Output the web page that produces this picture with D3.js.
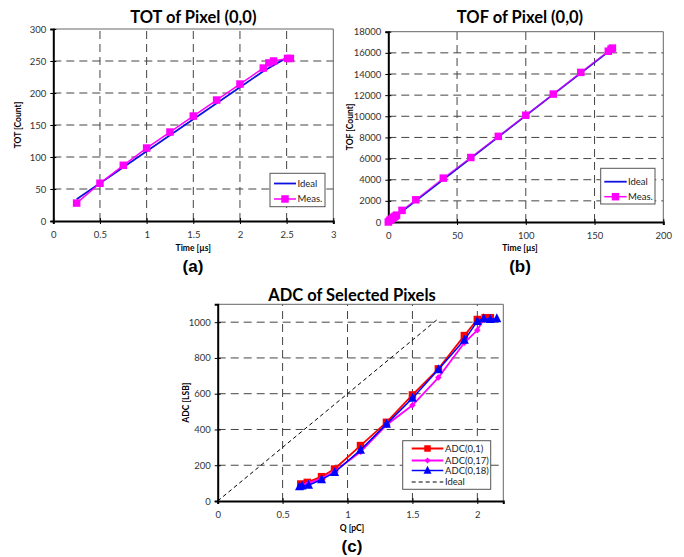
<!DOCTYPE html>
<html><head><meta charset="utf-8">
<script src="https://cdn.jsdelivr.net/npm/d3@7"></script>
<style>body{margin:0;background:#fff}svg{display:block}</style>
</head><body>
<svg id="c" width="684" height="557"></svg>
<script>
// ---- Data ----
const totTime = [0.25, 0.5, 0.75, 1.0, 1.25, 1.5, 1.75, 2.0, 2.25, 2.31, 2.36, 2.51, 2.54];
const totMeas = [28, 59, 87, 114, 139, 164, 189, 214, 239, 247, 250, 254, 254];
const totIdealTime = [0.25, 0.5, 0.75, 1.0, 1.25, 1.5, 1.75, 2.0, 2.25, 2.5];
const totIdeal = [34, 59, 84, 109, 134, 159, 184, 209, 234, 255];

const tofTime = [0, 1, 2, 3, 4, 5, 6, 10, 20, 40, 60, 80, 100, 120, 140, 160, 162, 163];
const tofMeas = [0, 150, 250, 350, 450, 550, 650, 1100, 2100, 4150, 6100, 8100, 10100, 12100, 14150, 16150, 16350, 16450];
const tofIdealTime = [0, 163];
const tofIdeal = [0, 16400];

const adcQ01 = [0.64, 0.69, 0.8, 0.9, 1.1, 1.3, 1.5, 1.7, 1.9, 2.0, 2.06, 2.1];
const adc01 = [95, 104, 136, 179, 310, 440, 593, 739, 925, 1015, 1025, 1025];
const adcQ17 = [0.65, 0.7, 0.8, 0.9, 1.1, 1.3, 1.5, 1.7, 1.9, 2.0, 2.05, 2.1];
const adc17 = [90, 100, 125, 165, 275, 425, 535, 690, 885, 955, 1018, 1018];
const adcQ18 = [0.63, 0.65, 0.7, 0.8, 0.9, 1.1, 1.3, 1.5, 1.7, 1.9, 2.0, 2.05, 2.1, 2.15];
const adc18 = [80, 85, 88, 120, 160, 285, 430, 575, 735, 900, 1005, 1020, 1015, 1020];
const adcIdealQ = [0, 1.7];
const adcIdeal = [0, 1020];

const totXTicks = [0, 0.5, 1, 1.5, 2, 2.5, 3];
const totYTicks = [0, 50, 100, 150, 200, 250, 300];
const tofXTicks = [0, 50, 100, 150, 200];
const tofYTicks = [0, 2000, 4000, 6000, 8000, 10000, 12000, 14000, 16000, 18000];
const adcXTicks = [0, 0.5, 1, 1.5, 2];
const adcYTicks = [0, 200, 400, 600, 800, 1000];

const svg = d3.select("#c");
const FONT = "Lato, 'Open Sans', sans-serif";

function panel(o) {
  const g = svg.append("g");
  const x = d3.scaleLinear().domain(o.xd).range(o.xr);
  const y = d3.scaleLinear().domain(o.yd).range(o.yr);
  const [x0, x1] = o.xr, [y0, y1] = o.yr;
  // grid
  g.selectAll(null).data(o.xt.filter(v => x(v) > x0 + 1 && x(v) < x1 - 1)).enter().append("line")
    .attr("x1", d => x(d)).attr("x2", d => x(d)).attr("y1", y0).attr("y2", y1)
    .attr("stroke", "#444").attr("stroke-width", 1).attr("stroke-dasharray", "8,5");
  g.selectAll(null).data(o.yt.filter(v => y(v) < y0 - 1 && y(v) > y1 + 1)).enter().append("line")
    .attr("y1", d => y(d)).attr("y2", d => y(d)).attr("x1", x0).attr("x2", x1)
    .attr("stroke", "#444").attr("stroke-width", 1).attr("stroke-dasharray", "8,5");
  // frame
  g.append("line").attr("x1", x0).attr("x2", x1).attr("y1", y1).attr("y2", y1).attr("stroke", "#666").attr("stroke-width", 1);
  g.append("line").attr("x1", x1).attr("x2", x1).attr("y1", y0).attr("y2", y1).attr("stroke", "#666").attr("stroke-width", 1);
  // axes via d3
  const xa = g.append("g").attr("transform", `translate(0,${y0})`)
    .call(d3.axisBottom(x).tickValues(o.xt).tickSize(3).tickFormat(d3.format(o.xf || "")).tickPadding(7));
  const ya = g.append("g").attr("transform", `translate(${x0},0)`)
    .call(d3.axisLeft(y).tickValues(o.yt).tickSize(3).tickFormat(d3.format("d")).tickPadding(4));
  [xa, ya].forEach(a => {
    a.select(".domain").attr("stroke", "#000").attr("stroke-width", 2);
    a.selectAll(".tick line").attr("stroke", "#000").attr("stroke-width", 1);
    a.selectAll(".tick text").attr("font-family", FONT).attr("font-size", 9.5).attr("fill", "#333");
  });
  xa.selectAll(".tick line").attr("y1", -3);
  ya.selectAll(".tick line").attr("x1", 3);
  // titles
  const cx = (x0 + x1) / 2;
  g.append("text").attr("x", o.tx || cx).attr("y", o.ty).attr("text-anchor", "middle")
    .attr("font-family", FONT).attr("font-weight", "bold").attr("font-size", 16.5).text(o.title);
  g.append("text").attr("x", o.xlx || cx).attr("y", o.xly).attr("text-anchor", "middle")
    .attr("font-family", FONT).attr("font-weight", "bold").attr("font-size", 8.5).text(o.xl);
  g.append("text").attr("transform", `translate(${o.ylx},${(y0 + y1) / 2}) rotate(-90)`).attr("text-anchor", "middle")
    .attr("font-family", FONT).attr("font-weight", "bold").attr("font-size", 8.5).text(o.yl);
  g.append("text").attr("x", o.tagx || cx).attr("y", o.tagy).attr("text-anchor", "middle")
    .attr("font-family", "'Liberation Sans', Arial, sans-serif").attr("font-weight", "bold").attr("font-size", 17).text(o.tag);
  return { g, x, y };
}

function series(p, xs, ys, color, width, marker, extra) {
  const pts = xs.map((v, i) => [v, ys[i]]);
  const line = d3.line().x(d => p.x(d[0])).y(d => p.y(d[1]));
  const path = p.g.append("path").attr("d", line(pts)).attr("fill", "none").attr("stroke", color).attr("stroke-width", width);
  if (extra) extra(path);
  if (marker) {
    p.g.selectAll(null).data(pts).enter().append("path")
      .attr("transform", d => `translate(${p.x(d[0])},${p.y(d[1])})`)
      .attr("d", marker).attr("fill", color);
  }
}

const sq = s => `M${-s/2},${-s/2}h${s}v${s}h${-s}Z`;
const dia = s => `M0,${-s/2}L${s/2},0L0,${s/2}L${-s/2},0Z`;
const tri = s => `M0,${-s*0.6}L${s/2},${s*0.4}L${-s/2},${s*0.4}Z`;

function legend(p, bx, by, bw, bh, items) {
  p.g.append("rect").attr("x", bx).attr("y", by).attr("width", bw).attr("height", bh)
    .attr("fill", "#fff").attr("stroke", "#555").attr("stroke-width", 1);
  items.forEach(it => {
    p.g.append("line").attr("x1", it.lx0).attr("x2", it.lx1).attr("y1", it.y).attr("y2", it.y)
      .attr("stroke", it.color).attr("stroke-width", it.w).attr("stroke-dasharray", it.dash || null);
    if (it.marker) p.g.append("path").attr("transform", `translate(${(it.lx0 + it.lx1) / 2},${it.y})`).attr("d", it.marker).attr("fill", it.color);
    p.g.append("text").attr("x", it.tx).attr("y", it.y + 3.3).attr("font-family", FONT).attr("font-size", 9.5).attr("fill", "#222").text(it.label);
  });
}

// ---- Panel (a) ----
const pa = panel({ xd: [0, 3], yd: [0, 300], xr: [53.3, 333.3], yr: [221, 29], xt: totXTicks, yt: totYTicks,
  title: "TOT of Pixel (0,0)", ty: 23, xl: "Time [\u00b5s]", xly: 251, yl: "TOT [Count]", ylx: 21,
  tag: "(a)", tagy: 272, tagx: 193 });
series(pa, totIdealTime, totIdeal, "#1010e0", 1.8, null);
series(pa, totTime, totMeas, "#ff00ff", 1.5, sq(7.5));
legend(pa, 270, 173.3, 55, 33.4, [
  { lx0: 274, lx1: 296, y: 183.5, color: "#1010e0", w: 1.8, tx: 297.5, label: "Ideal" },
  { lx0: 274, lx1: 296, y: 199, color: "#ff00ff", w: 1.5, marker: sq(7.5), tx: 297.5, label: "Meas." }
]);

// ---- Panel (b) ----
const pb = panel({ xd: [0, 200], yd: [0, 18000], xr: [388.3, 663.3], yr: [222, 31.7], xt: tofXTicks, yt: tofYTicks,
  title: "TOF of Pixel (0,0)", ty: 23, tx: 520, xl: "Time [\u00b5s]", xly: 251, xlx: 520, yl: "TOF [Count]", ylx: 353,
  tag: "(b)", tagy: 272, tagx: 520 });
series(pb, tofIdealTime, tofIdeal, "#1010e0", 1.8, null);
series(pb, tofTime, tofMeas, "#ff00ff", 1.5, sq(7.5), p => p.attr("stroke-opacity", 0.65));
legend(pb, 600.7, 168.3, 54.3, 35.7, [
  { lx0: 604.3, lx1: 626.7, y: 181.7, color: "#1010e0", w: 1.8, tx: 628, label: "Ideal" },
  { lx0: 604.3, lx1: 626.7, y: 196.7, color: "#ff00ff", w: 1.5, marker: sq(7.5), tx: 628, label: "Meas." }
]);

// ---- Panel (c) ----
const pc = panel({ xd: [0, 2.2], yd: [0, 1100], xr: [217.7, 503.3], yr: [501, 304.3], xt: adcXTicks, yt: adcYTicks,
  title: "ADC of Selected Pixels", ty: 300.5, tx: 352, xl: "Q [pC]", xly: 530.5, xlx: 352, yl: "ADC [LSB]", ylx: 189,
  tag: "(c)", tagy: 552, tagx: 352 });
series(pc, adcIdealQ, adcIdeal, "#000", 1, null, p => p.attr("stroke-dasharray", "4,3"));
series(pc, adcQ01, adc01, "#ff0000", 1.8, sq(7.5));
series(pc, adcQ17, adc17, "#ff00ff", 1.8, dia(6.5));
series(pc, adcQ18, adc18, "#0000ff", 1.5, tri(9));
legend(pc, 402.7, 440.7, 88, 48.6, [
  { lx0: 411.7, lx1: 443.3, y: 448.5, color: "#ff0000", w: 1.8, marker: sq(6.5), tx: 445, label: "ADC(0,1)" },
  { lx0: 411.7, lx1: 443.3, y: 460.5, color: "#ff00ff", w: 1.8, marker: dia(6), tx: 445, label: "ADC(0,17)" },
  { lx0: 411.7, lx1: 443.3, y: 470.5, color: "#0000ff", w: 1.5, marker: tri(8), tx: 445, label: "ADC(0,18)" },
  { lx0: 411.7, lx1: 443.3, y: 482, color: "#000", w: 1, dash: "4,3", tx: 445, label: "Ideal" }
]);
</script>
</body></html>
